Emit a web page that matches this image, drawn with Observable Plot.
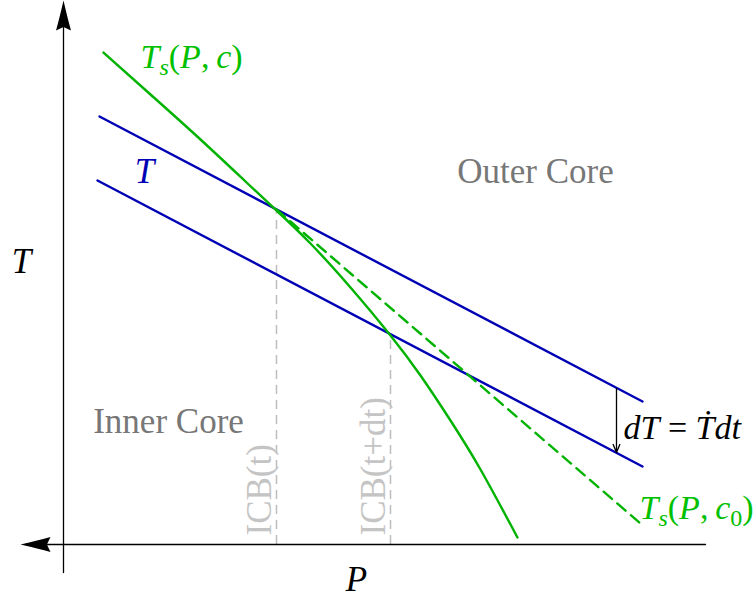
<!DOCTYPE html>
<html>
<head>
<meta charset="utf-8">
<script src="https://cdn.jsdelivr.net/npm/d3@7"></script>
<script src="https://cdn.jsdelivr.net/npm/@observablehq/plot@0.6"></script>
<style>
  body { margin: 0; background: #fff; }
  svg { display: block; }
</style>
</head>
<body>
<div id="chart"></div>
<script>
// Schematic units: pressure P to the right, temperature T upwards.

// Axes (drawn as plain lines with filled heads)
const axisVP = [0, 0], axisVT = [-2.8, 52];
const axisHP = [-3.8, 64.2], axisHT = [0, 0];
const headP = [0, -4.3], headT = [54.4, 0], headRotate = [0, -90];

// Temperature profile at t (upper) and t+dt (lower)
const tempUpperP = [3.6, 57.9], tempUpperT = [42.8, 14.3];
const tempLowerP = [3.4, 57.9], tempLowerT = [36.4, 7.8];

// Solidus T_s(P, c)
const solidusP = [4.0, 8.7, 13.7, 18.2, 21.3, 24.7, 28.7, 32.7, 35.7, 38.7, 41.7, 45.4];
const solidusT = [49.2, 45.0, 40.5, 36.3, 33.4, 30.1, 25.7, 20.9, 16.9, 12.4, 7.5, 0.7];

// Solidus at initial composition T_s(P, c0)
const solidus0P = [21.3, 57.7], solidus0T = [33.5, 2.1];

// Inner-core boundary positions
const icbP = [21.3, 32.7], icbTop = [33.5, 21.0];
const icbLabels = ["ICB(t)", "ICB(t+dt)"];
const icbLabelP = [20.7, 32.1], icbLabelT = [0.9, 0.9];

// Cooling step dT
const coolP = [55.3], coolFrom = [15.6], coolTo = [9.2];

// Region names
const regionLabels = ["Outer Core", "Inner Core"];
const regionP = [47.2, 10.5], regionT = [36.2, 11.2];

// Math labels, left-aligned
const mathLeft = ["T_s(P,\u2009c)", "dT = T\u0307dt", "T_s(P,\u2009c_0)"];
const mathLeftP = [7.7, 56.0, 57.6];
const mathLeftT = [47.7, 10.6, 2.6];
const mathLeftColor = ["#00c000", "#000", "#00c000"];

// Math labels, centred
const mathMid = ["T", "T", "P"];
const mathMidP = [8.1, -4.2, 29.3];
const mathMidT = [36.2, 27.2, -4.6];
const mathMidColor = ["#0000b4", "#000", "#000"];

const BLUE = "#0000b4", GREEN = "#00b300";
const serif = "Liberation Serif, Times New Roman, serif";

// Filled LaTeX-style arrowhead
const stealth = {
  draw(context, l) {
    const r = 7.5;
    context.moveTo(0, -l);
    context.quadraticCurveTo(r * 0.55, -l * 0.4, r, 0);
    context.lineTo(0, -l * 0.12);
    context.lineTo(-r, 0);
    context.quadraticCurveTo(-r * 0.55, -l * 0.4, 0, -l);
    context.closePath();
  }
};

const plot = Plot.plot({
  width: 754,
  height: 599,
  margin: 0,
  x: {domain: [-6.3, 69.1], axis: null},
  y: {domain: [-5.5, 54.4], axis: null},
  marks: [
    // ICB guides
    Plot.ruleX(icbP, {x: icbP, y1: 0, y2: icbTop, stroke: "#bdbdbd", strokeWidth: 1.5, strokeDasharray: "9,6"}),
    Plot.text(icbLabels, {
      x: icbLabelP, y: icbLabelT, text: (d) => d, rotate: -90,
      textAnchor: "start", lineAnchor: "bottom",
      fill: "#c4c4c4", fontSize: 35, fontFamily: serif
    }),
    // Axes
    Plot.line(axisVP, {x: axisVP, y: axisVT, stroke: "#000", strokeWidth: 1.3}),
    Plot.line(axisHP, {x: axisHP, y: axisHT, stroke: "#000", strokeWidth: 1.3}),
    Plot.vector(headP, {x: headP, y: headT, rotate: headRotate, length: 30, anchor: "end", shape: stealth, fill: "#000", stroke: "none"}),
    // Temperature profiles
    Plot.line(tempUpperP, {x: tempUpperP, y: tempUpperT, stroke: BLUE, strokeWidth: 2.4}),
    Plot.line(tempLowerP, {x: tempLowerP, y: tempLowerT, stroke: BLUE, strokeWidth: 2.4}),
    // Solidi
    Plot.line(solidus0P, {x: solidus0P, y: solidus0T, stroke: GREEN, strokeWidth: 2.4, strokeDasharray: "11,7"}),
    Plot.line(solidusP, {x: solidusP, y: solidusT, stroke: GREEN, strokeWidth: 2.4, curve: "natural"}),
    // Cooling arrow
    Plot.arrow(coolP, {x1: coolP, x2: coolP, y1: coolFrom, y2: coolTo, stroke: "#000", strokeWidth: 1.3, headLength: 10, headAngle: 45}),
    // Region names
    Plot.text(regionLabels, {x: regionP, y: regionT, text: (d) => d, lineAnchor: "bottom", fill: "#777", fontSize: 35, fontFamily: serif}),
    // Math labels
    Plot.text(mathLeft, {
      x: mathLeftP, y: mathLeftT, text: (d) => d, lineAnchor: "bottom", textAnchor: "start",
      fill: (d, i) => mathLeftColor[i], fontSize: 34, fontFamily: serif, className: "mathlabel"
    }),
    Plot.text(mathMid, {
      x: mathMidP, y: mathMidT, text: (d) => d, lineAnchor: "bottom", textAnchor: "middle",
      fill: (d, i) => mathMidColor[i], fontSize: 35, fontFamily: serif, className: "mathlabel"
    })
  ]
});

// Typeset math labels: letters italic, "_x" as subscript
const NS = "http://www.w3.org/2000/svg";
d3.select(plot).selectAll(".mathlabel text").each(function () {
  const s = this.textContent;
  const segs = [];
  for (let i = 0; i < s.length; i++) {
    const ch = s[i];
    if (ch === "_") {
      segs.push({t: s[i + 1], sub: true, it: /[A-Za-z]/.test(s[i + 1])});
      i++;
    } else if (ch === "\u0307" && segs.length) {
      segs[segs.length - 1].t += ch;
    } else {
      segs.push({t: ch, sub: false, it: /[A-Za-z]/.test(ch)});
    }
  }
  this.textContent = "";
  let shift = 0;
  for (const g of segs) {
    const ts = document.createElementNS(NS, "tspan");
    const want = g.sub ? 7 : 0;
    if (want !== shift) { ts.setAttribute("dy", want - shift); shift = want; }
    if (g.sub) ts.setAttribute("font-size", "24");
    ts.setAttribute("font-style", g.it ? "italic" : "normal");
    ts.textContent = g.t;
    this.appendChild(ts);
  }
});

document.getElementById("chart").appendChild(plot);
</script>
</body>
</html>
